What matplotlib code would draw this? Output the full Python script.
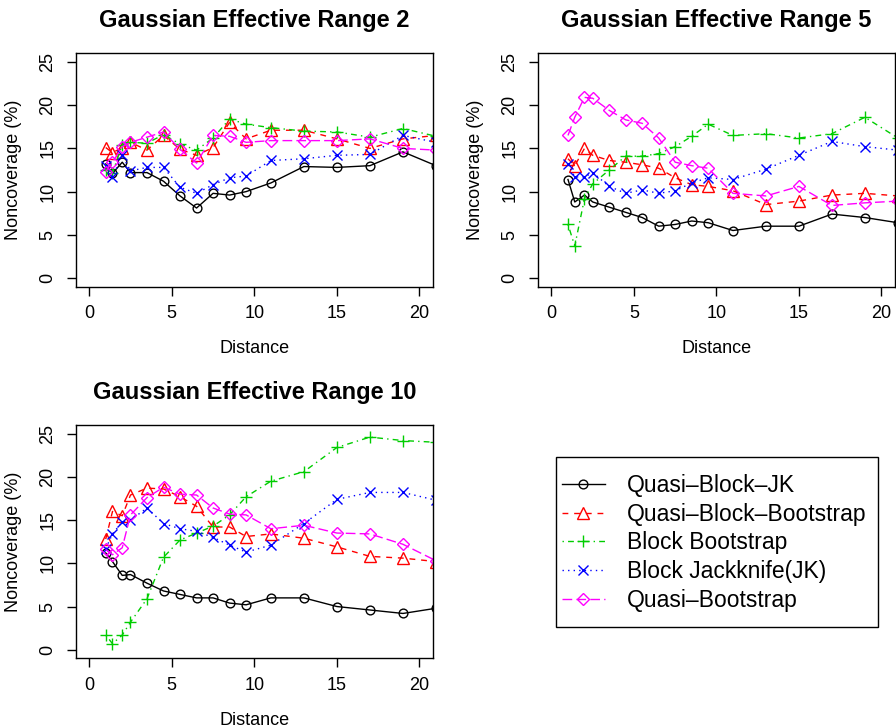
import numpy as np
import matplotlib
matplotlib.use('Agg')
import matplotlib.pyplot as plt
from matplotlib.lines import Line2D
from matplotlib.patches import Rectangle

plt.rcParams['font.family'] = ['Liberation Sans', 'DejaVu Sans']

distance = [1, 1.41, 2, 2.5, 3.5, 4.5, 5.5, 6.5, 7.5, 8.5, 9.5, 11, 13, 15, 17, 19, 21]

methods = ['Quasi\u2013Block\u2013JK', 'Quasi\u2013Block\u2013Bootstrap', 'Block Bootstrap',
           'Block Jackknife(JK)', 'Quasi\u2013Bootstrap']

titles = ['Gaussian Effective Range 2', 'Gaussian Effective Range 5', 'Gaussian Effective Range 10']

# range 2
r2_qbjk = [13.2, 12.1, 13.4, 12.2, 12.2, 11.2, 9.5, 8.1, 9.8, 9.6, 10.0, 11.0, 12.9, 12.8, 13.0, 14.6, 13.0]
r2_qbboot = [15.1, 14.5, 15.1, 15.7, 14.8, 16.5, 14.9, 14.2, 15.1, 18.0, 16.1, 17.1, 17.1, 16.1, 15.0, 16.1, 16.5]
r2_bboot = [12.5, 12.2, 15.4, 15.7, 15.6, 16.6, 15.5, 14.8, 16.2, 18.4, 17.8, 17.4, 17.0, 16.9, 16.3, 17.3, 16.4]
r2_bjk = [13.0, 11.7, 14.2, 12.4, 12.8, 12.8, 10.5, 9.8, 10.8, 11.6, 11.8, 13.6, 13.8, 14.2, 14.3, 16.5, 15.7]
r2_qboot = [12.3, 13.4, 15.2, 15.7, 16.3, 16.9, 14.9, 13.3, 16.5, 16.4, 15.7, 15.9, 15.9, 15.9, 16.1, 15.0, 14.8]

# range 5
r5_qbjk = [11.4, 8.8, 9.6, 8.8, 8.2, 7.6, 7.0, 6.0, 6.2, 6.6, 6.4, 5.5, 6.0, 6.0, 7.4, 7.0, 6.4]
r5_qbboot = [13.8, 13.0, 15.0, 14.2, 13.6, 13.4, 13.1, 12.7, 11.6, 10.8, 10.6, 10.1, 8.5, 8.9, 9.6, 9.8, 9.5]
r5_bboot = [6.2, 3.7, 9.2, 10.9, 12.5, 14.1, 14.1, 14.4, 15.2, 16.4, 17.8, 16.5, 16.7, 16.2, 16.7, 18.6, 16.2]
r5_bjk = [13.2, 11.7, 11.7, 12.2, 10.6, 9.8, 10.2, 9.8, 10.1, 11.0, 11.6, 11.4, 12.6, 14.2, 15.8, 15.2, 14.8]
r5_qboot = [16.5, 18.6, 20.9, 20.8, 19.4, 18.3, 17.9, 16.2, 13.4, 13.0, 12.7, 9.8, 9.5, 10.6, 8.4, 8.7, 8.9]

# range 10
r10_qbjk = [11.2, 10.2, 8.6, 8.7, 7.7, 6.8, 6.4, 6.0, 6.0, 5.4, 5.2, 6.0, 6.0, 5.0, 4.6, 4.2, 4.8]
r10_qbboot = [12.8, 16.0, 15.5, 17.9, 18.7, 18.6, 17.7, 16.6, 14.2, 14.2, 13.1, 13.4, 12.9, 11.9, 10.8, 10.6, 10.2]
r10_bboot = [1.7, 0.7, 1.7, 3.2, 5.9, 10.7, 12.7, 13.5, 14.3, 15.6, 17.7, 19.5, 20.6, 23.4, 24.6, 24.2, 24.0]
r10_bjk = [11.7, 13.4, 14.8, 15.0, 16.4, 14.6, 14.0, 13.7, 13.0, 12.1, 11.3, 12.1, 14.6, 17.4, 18.2, 18.2, 17.3]
r10_qboot = [11.6, 11.0, 11.8, 15.6, 17.6, 18.8, 18.0, 17.9, 16.4, 15.7, 15.6, 14.0, 14.4, 13.5, 13.4, 12.2, 10.3]

panels = [
    [r2_qbjk, r2_qbboot, r2_bboot, r2_bjk, r2_qboot],
    [r5_qbjk, r5_qbboot, r5_bboot, r5_bjk, r5_qboot],
    [r10_qbjk, r10_qbboot, r10_bboot, r10_bjk, r10_qboot],
]

colors = ['black', '#FF0000', '#00CD00', '#0000FF', '#FF00FF']
markers = ['o', '^', '+', 'x', 'D']
msizes = [6.3, 8.0, 8.4, 7.2, 5.8]
dashes = ['-', (0, (4.2, 4.2)), (0, (1, 3, 4.2, 3)), (0, (1, 3)), (0, (7, 3))]

W, H = 896, 728
fig = plt.figure(figsize=(W / 100, H / 100), dpi=100)

boxes = [(76, 53.3, 356.7, 233.4), (538.3, 53.3, 356.3, 233.4), (76, 425, 356.7, 233.4)]

for k, (x0, y0, w, h) in enumerate(boxes):
    ax = fig.add_axes([x0 / W, 1 - (y0 + h) / H, w / W, h / H])
    for s, vals in enumerate(panels[k]):
        ax.plot(distance, vals, color=colors[s], linestyle=dashes[s], linewidth=1.0,
                marker=markers[s], markersize=msizes[s], markerfacecolor='none',
                markeredgewidth=1.0, markeredgecolor=colors[s])
    ax.set_xlim(-0.8, 20.8)
    ax.set_ylim(-1, 26)
    ax.set_xticks([0, 5, 10, 15, 20])
    ax.set_yticks([0, 5, 10, 15, 20, 25])
    ax.tick_params(direction='out', length=6.3, width=1, labelsize=13)
    ax.tick_params(axis='x', pad=7)
    ax.tick_params(axis='y', pad=8)
    for lab in ax.get_yticklabels():
        lab.set_rotation(90)
        lab.set_va('center')
    for sp in ax.spines.values():
        sp.set_linewidth(1)
    ax.set_xlabel('Distance', fontsize=13, labelpad=13)
    ax.set_ylabel('Noncoverage (%)', fontsize=13, labelpad=12.5)
    ax.set_title(titles[k], fontsize=17, fontweight='bold', pad=19)

handles = [Line2D([], [], color=colors[s], linestyle=dashes[s], linewidth=1.0,
                  marker=markers[s], markersize=msizes[s], markerfacecolor='none',
                  markeredgewidth=1.0) for s in range(5)]
fig.legend(handles, methods, loc='center left', bbox_to_anchor=(561.7 / W, 1 - 542.8 / H),
           frameon=False, borderpad=0, borderaxespad=0, fontsize=16.5,
           handlelength=1.88, handletextpad=0.95, labelspacing=0.25)
fig.patches.append(Rectangle((555.7 / W, 1 - 627.3 / H), 322 / W, 170.6 / H,
                             transform=fig.transFigure, fill=False, edgecolor='black',
                             linewidth=1))

fig.savefig('out.png', dpi=100)
